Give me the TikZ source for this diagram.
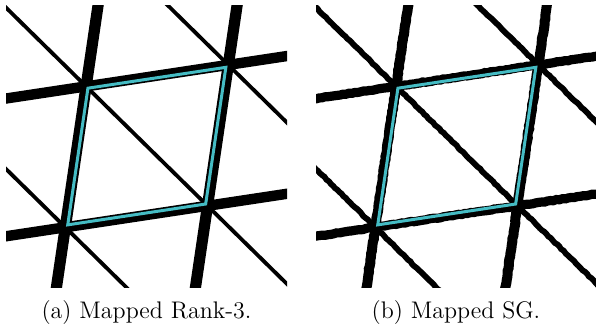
\documentclass[tikz,border=0pt]{standalone}
\usepackage{tikz}
\usetikzlibrary{calc,decorations.pathmorphing}
\definecolor{cellc}{HTML}{45BCC4}
\tikzset{
  rowline/.style={line width=5.2pt,line cap=butt},
  colline/.style={line width=5.6pt,line cap=butt},
  diagline/.style={line width=1.9pt,line cap=butt},
  % --- SG panel: rougher strokes ---
  rowsg/.style={line width=4.6pt,line cap=butt,
    decorate,decoration={random steps,segment length=1.5pt,amplitude=0.2pt}},
  colsg/.style={rowsg,line width=5.0pt},
  diagsg/.style={rowsg,line width=2.9pt},
  knot/.style={fill=black},
  cell/.style={draw=cellc,line width=1.5pt,line join=miter},
  subcap/.style={font=\fontsize{12}{14}\selectfont,anchor=base,inner sep=0pt},
}

\begin{document}
\begin{tikzpicture}[x=0.5pt,y=-0.5pt]
  \useasboundingbox (0,0) rectangle (596,331);
  % (a) mapped rank-3
  \begin{scope}
    \clip (6,6) rectangle (287,288);
    \coordinate (o) at (86.1,86.4);
    \coordinate (tr) at (228.3,64.9);
    \coordinate (bl) at (65.3,227.3);
    \coordinate (br) at (207.5,205.8);
    \draw[diagline] ($(o)!-1!(br)$) -- ($(o)!2!(br)$);
    \draw[diagline] ($(tr)-(br)+(o)$) -- ($(tr)+(br)-(o)$);
    \draw[diagline] ($(bl)-(br)+(o)$) -- ($(bl)+(br)-(o)$);
    \draw[rowline] ($(o)!-1!(tr)$) -- ($(o)!2!(tr)$);
    \draw[rowline] ($(bl)!-1!(br)$) -- ($(bl)!2!(br)$);
    \draw[colline] ($(o)!-1!(bl)$) -- ($(o)!2!(bl)$);
    \draw[colline] ($(tr)!-1!(br)$) -- ($(tr)!2!(br)$);
    \coordinate (c) at ($(o)!0.5!(br)$);
    \draw[cell] ($(c)!0.97!(o)$) -- ($(c)!0.97!(tr)$) -- ($(c)!0.97!(br)$)
      -- ($(c)!0.97!(bl)$) -- cycle;
  \end{scope}
  % (b) mapped SG
  \begin{scope}[xshift=155pt]
    \clip (6,6) rectangle (287,288);
    \coordinate (o) at (86.1,86.4);
    \coordinate (tr) at (228.3,64.9);
    \coordinate (bl) at (65.3,227.3);
    \coordinate (br) at (207.5,205.8);
    \draw[diagsg] ($(o)!-1!(br)$) -- ($(o)!2!(br)$);
    \draw[diagsg] ($(tr)-(br)+(o)$) -- ($(tr)+(br)-(o)$);
    \draw[diagsg] ($(bl)-(br)+(o)$) -- ($(bl)+(br)-(o)$);
    \draw[rowsg] ($(o)!-1!(tr)$) -- ($(o)!2!(tr)$);
    \draw[rowsg] ($(bl)!-1!(br)$) -- ($(bl)!2!(br)$);
    \draw[colsg] ($(o)!-1!(bl)$) -- ($(o)!2!(bl)$);
    \draw[colsg] ($(tr)!-1!(br)$) -- ($(tr)!2!(br)$);
    \foreach \p in {o,tr,bl,br}
      \fill[knot] (\p) circle[radius=3.6pt];
    \coordinate (c) at ($(o)!0.5!(br)$);
    \draw[cell] ($(c)!0.97!(o)$) -- ($(c)!0.97!(tr)$) -- ($(c)!0.97!(br)$)
      -- ($(c)!0.97!(bl)$) -- cycle;
  \end{scope}
  \node[subcap] (capa) at (146.5,318.5) {(a) Mapped Rank-3.};
  \node[subcap] (capb) at (456,318.5) {(b) Mapped SG.};
\end{tikzpicture}
\end{document}
